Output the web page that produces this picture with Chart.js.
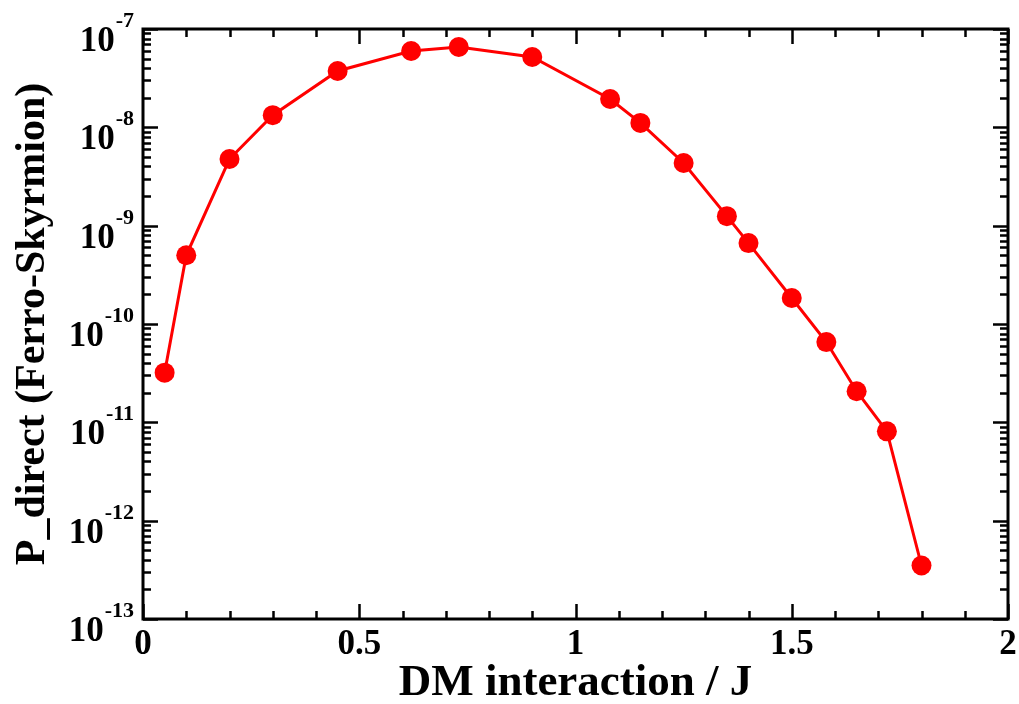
<!DOCTYPE html>
<html>
<head>
<meta charset="utf-8">
<script src="https://cdn.jsdelivr.net/npm/chart.js@4"></script>
<style>
  html, body { margin: 0; padding: 0; background: #fff; }
  #wrap { width: 1019px; height: 704px; }
</style>
</head>
<body>
<div id="wrap"><canvas id="c" width="1019" height="704"></canvas></div>
<script>
// DM interaction strength (in units of J)
const dmValues = [0.05, 0.1, 0.2, 0.3, 0.45, 0.62, 0.73, 0.9, 1.08, 1.15, 1.25, 1.35, 1.4, 1.5, 1.58, 1.65, 1.72, 1.8];
// Direct ferro -> skyrmion probability
const pDirect = [3.2e-11, 5.0e-10, 4.76e-9, 1.33e-8, 3.74e-8, 5.97e-8, 6.56e-8, 5.19e-8, 1.94e-8, 1.11e-8,
                 4.34e-9, 1.25e-9, 6.65e-10, 1.84e-10, 6.55e-11, 2.07e-11, 8.1e-12, 3.5e-13];

// Axis ticks
const xTickValues = [0, 0.5, 1, 1.5, 2];
const xTickLabels = ['0', '0.5', '1', '1.5', '2'];
const yTickExponents = [-13, -12, -11, -10, -9, -8, -7];

const xTitle = 'DM interaction / J';
const yTitle = 'P_direct (Ferro-Skyrmion)';

const FONT = '"Liberation Serif", "Times New Roman", serif';

// Frame, inward ticks on all four sides, tick labels with superscripts, and axis titles
const framePlugin = {
  id: 'frame',
  afterDraw(chart) {
    const ctx = chart.ctx;
    const xs = chart.scales.x, ys = chart.scales.y;
    const a = chart.chartArea;
    ctx.save();
    ctx.strokeStyle = '#000';
    ctx.fillStyle = '#000';

    // ticks
    ctx.lineWidth = 2.5;
    ctx.lineCap = 'butt';
    const major = 15, minor = 8;
    ctx.beginPath();
    for (let i = 0; i <= 20; i++) {
      const v = i / 10;
      const px = Math.round(xs.getPixelForValue(v)) + 0.5;
      const len = (i % 5 === 0) ? major : minor;
      ctx.moveTo(px, a.bottom); ctx.lineTo(px, a.bottom - len);
      ctx.moveTo(px, a.top); ctx.lineTo(px, a.top + len);
    }
    for (let e = -13; e <= -7; e++) {
      for (let k = 1; k <= 9; k++) {
        if (e === -7 && k > 1) break;
        const v = k * Math.pow(10, e);
        const py = Math.round(ys.getPixelForValue(v)) + 0.5;
        const len = (k === 1) ? major : minor;
        ctx.moveTo(a.left, py); ctx.lineTo(a.left + len, py);
        ctx.moveTo(a.right, py); ctx.lineTo(a.right - len, py);
      }
    }
    ctx.stroke();

    // frame
    ctx.lineWidth = 3;
    ctx.strokeRect(a.left, a.top, a.right - a.left, a.bottom - a.top);

    // x tick labels
    ctx.font = 'bold 35px ' + FONT;
    ctx.textAlign = 'center';
    ctx.textBaseline = 'alphabetic';
    xTickValues.forEach((v, i) => {
      ctx.fillText(xTickLabels[i], xs.getPixelForValue(v), a.bottom + 35);
    });

    // y tick labels: 10 with superscript exponent
    const baseFont = 'bold 35px ' + FONT;
    const supFont = 'bold 22px ' + FONT;
    const rightEdge = a.left - 9;
    yTickExponents.forEach(e => {
      const py = ys.getPixelForValue(Math.pow(10, e));
      const sup = '-' + String(-e);
      ctx.font = supFont;
      const wSup = ctx.measureText(sup).width;
      ctx.font = baseFont;
      const wBase = ctx.measureText('10').width;
      ctx.textAlign = 'left';
      ctx.fillText('10', rightEdge - wSup - 1 - wBase, py + 22);
      ctx.font = supFont;
      ctx.fillText(sup, rightEdge - wSup, py - 2);
    });

    // axis titles
    ctx.font = 'bold 45px ' + FONT;
    ctx.textAlign = 'center';
    ctx.fillText(xTitle, (a.left + a.right) / 2, 695);

    ctx.save();
    ctx.translate(44, (a.top + a.bottom) / 2);
    ctx.rotate(-Math.PI / 2);
    ctx.font = 'bold 42px ' + FONT;
    ctx.textAlign = 'center';
    ctx.fillText(yTitle, 0, 0);
    ctx.restore();

    ctx.restore();
  }
};

new Chart(document.getElementById('c'), {
  type: 'line',
  data: {
    datasets: [{
      data: dmValues.map((x, i) => ({ x: x, y: pDirect[i] })),
      borderColor: '#ff0000',
      backgroundColor: '#ff0000',
      borderWidth: 3,
      pointRadius: 10,
      pointBorderWidth: 0,
      pointBackgroundColor: '#ff0000',
      tension: 0
    }]
  },
  options: {
    responsive: false,
    animation: false,
    layout: { padding: { top: 29, right: 11, left: 0, bottom: 0 } },
    plugins: { legend: { display: false }, tooltip: { enabled: false } },
    scales: {
      x: {
        type: 'linear', min: 0, max: 2,
        ticks: { display: false },
        grid: { display: false },
        border: { display: false },
        afterFit(s) { s.height = 85; }
      },
      y: {
        type: 'logarithmic', min: 1e-13, max: 1e-7,
        ticks: { display: false },
        grid: { display: false },
        border: { display: false },
        afterFit(s) { s.width = 143; }
      }
    }
  },
  plugins: [framePlugin]
});
</script>
</body>
</html>
